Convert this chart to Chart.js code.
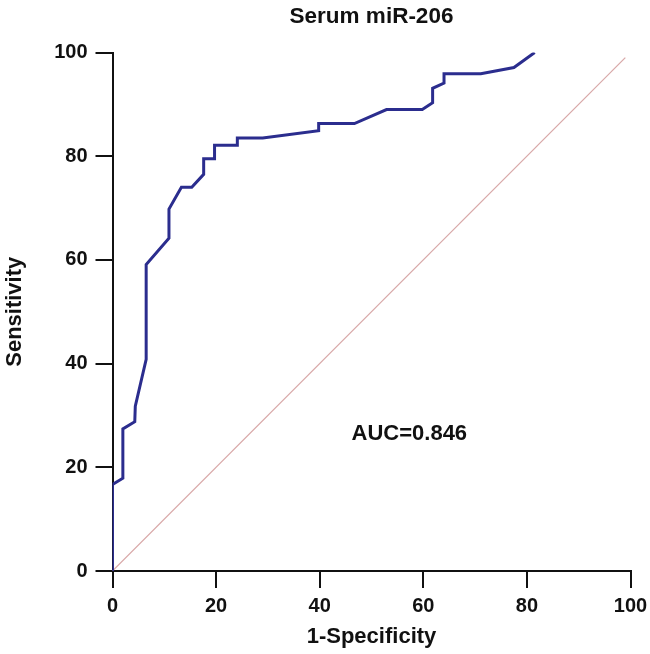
<!DOCTYPE html>
<html>
<head>
<meta charset="utf-8">
<script src="https://cdn.jsdelivr.net/npm/chart.js@4/dist/chart.umd.min.js"></script>
<style>
  html, body { margin: 0; padding: 0; background: #ffffff; }
  #wrap { width: 650px; height: 654px; }
</style>
</head>
<body>
<div id="wrap"><canvas id="c" width="650" height="654"></canvas></div>
<script>
// ROC curve points (1-Specificity, Sensitivity)
const rocX = [0, 0, 2.0, 2.0, 4.3, 4.4, 6.5, 6.5, 10.9, 10.9, 13.3, 15.3, 17.6, 17.6, 19.7, 19.7, 24.1, 24.1, 29.0, 39.8, 39.8, 46.7, 52.9, 59.8, 61.8, 61.8, 64.0, 64.0, 71.1, 77.5, 81.5];
const rocY = [0, 16.7, 17.9, 27.4, 28.8, 31.8, 40.8, 59.1, 64.2, 69.8, 74.0, 74.0, 76.5, 79.5, 79.5, 82.1, 82.1, 83.5, 83.5, 84.9, 86.3, 86.3, 89.0, 89.0, 90.3, 93.1, 94.1, 95.9, 95.9, 97.1, 100];
// Reference diagonal
const refX = [0, 99];
const refY = [0, 99];
// Axis ticks
const tickValues = [0, 20, 40, 60, 80, 100];
const titleText = 'Serum miR-206';
const xTitle = '1-Specificity';
const yTitle = 'Sensitivity';
const aucLabel = 'AUC=0.846';
const aucPos = [57.3, 26.5];

const FONT = '"Liberation Sans", Arial, Helvetica, sans-serif';

const rocData = rocX.map((x, i) => ({ x: x, y: rocY[i] }));
const refData = refX.map((x, i) => ({ x: x, y: refY[i] }));

const aucPlugin = {
  id: 'aucText',
  afterDatasetsDraw(chart) {
    const { ctx, scales } = chart;
    const px = scales.x.getPixelForValue(aucPos[0]);
    const py = scales.y.getPixelForValue(aucPos[1]);
    ctx.save();
    ctx.font = 'bold 22px ' + FONT;
    ctx.fillStyle = '#111111';
    ctx.textAlign = 'center';
    ctx.textBaseline = 'middle';
    ctx.fillText(aucLabel, px, py);
    ctx.restore();
  }
};

const axisCommon = {
  type: 'linear',
  min: 0,
  max: 100,
  afterBuildTicks(scale) {
    scale.ticks = tickValues.map(v => ({ value: v }));
  },
  grid: {
    display: true,
    drawOnChartArea: false,
    drawTicks: true,
    tickLength: 17,
    color: '#111111',
    lineWidth: 2
  },
  border: { display: true, color: '#111111', width: 2 },
  ticks: {
    color: '#111111',
    font: { family: FONT, size: 20, weight: 'bold' },
    padding: 6
  }
};

new Chart(document.getElementById('c'), {
  type: 'scatter',
  data: {
    datasets: [
      {
        data: rocData,
        showLine: true,
        borderColor: '#2b2d8e',
        borderWidth: 3,
        pointRadius: 0,
        tension: 0,
        fill: false
      },
      {
        data: refData,
        showLine: true,
        borderColor: '#d8a8a8',
        borderWidth: 1.2,
        pointRadius: 0,
        tension: 0,
        fill: false
      }
    ]
  },
  options: {
    responsive: false,
    animation: false,
    devicePixelRatio: 1,
    layout: { padding: { left: 0, right: 19.5, top: 0, bottom: 0 } },
    plugins: {
      legend: { display: false },
      tooltip: { enabled: false },
      title: {
        display: true,
        text: titleText,
        fullSize: false,
        color: '#111111',
        font: { family: FONT, size: 22.5, weight: 'bold' },
        padding: { top: 3, bottom: 22.5 }
      }
    },
    scales: {
      x: Object.assign({}, axisCommon, {
        position: 'bottom',
        title: {
          display: true,
          text: xTitle,
          color: '#111111',
          font: { family: FONT, size: 22, weight: 'bold' },
          padding: { top: 0, bottom: 4 }
        },
        afterFit(scale) {
          scale.height = 83;
          scale.paddingLeft = 0;
          scale.paddingRight = 0;
        }
      }),
      y: Object.assign({}, axisCommon, {
        position: 'left',
        ticks: Object.assign({}, axisCommon.ticks, { padding: 8 }),
        title: {
          display: true,
          text: yTitle,
          color: '#111111',
          font: { family: FONT, size: 22, weight: 'bold' },
          padding: { top: 2, bottom: 0 }
        },
        afterFit(scale) {
          scale.width = 112.5;
          scale.paddingTop = 0;
          scale.paddingBottom = 0;
        }
      })
    }
  },
  plugins: [aucPlugin]
});
</script>
</body>
</html>
